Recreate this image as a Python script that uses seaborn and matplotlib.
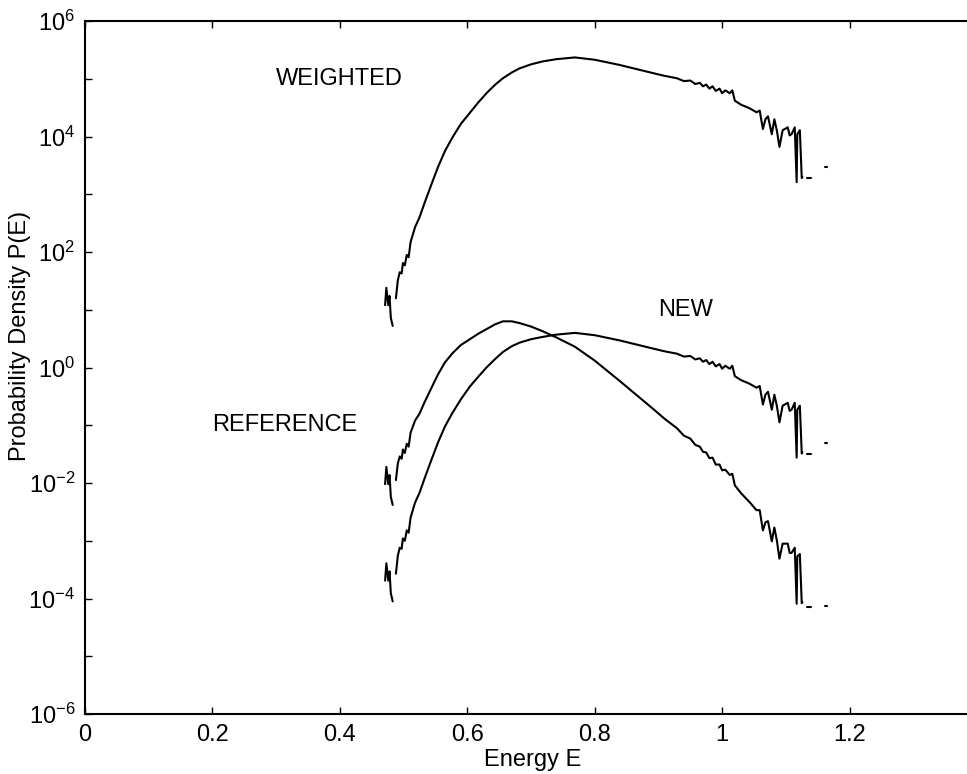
import numpy as np
import pandas as pd
import seaborn as sns
import matplotlib
matplotlib.use('Agg')
import matplotlib.pyplot as plt
from matplotlib.ticker import FixedLocator, NullFormatter

# values (E, log10 P(E)), split where the trace breaks
weighted_jag_E = [0.471, 0.473, 0.476, 0.478, 0.480, 0.483]
weighted_jag_logP = [1.08, 1.38, 1.08, 1.24, 0.86, 0.72]
weighted_E = [0.488, 0.491, 0.494, 0.497, 0.499, 0.502, 0.505, 0.508, 0.511, 0.518,
              0.525, 0.533, 0.543, 0.554, 0.565, 0.577, 0.590, 0.604, 0.618, 0.631,
              0.644, 0.656, 0.670, 0.682, 0.700, 0.718, 0.740, 0.769, 0.800, 0.839,
              0.865, 0.891, 0.910, 0.929, 0.940, 0.950, 0.958, 0.965, 0.970, 0.975,
              0.980, 0.985, 0.990, 0.996, 1.000, 1.005,
              1.012, 1.016, 1.020, 1.030, 1.043, 1.054, 1.059, 1.064, 1.068, 1.072,
              1.078, 1.082, 1.086, 1.090, 1.095, 1.100, 1.103, 1.106, 1.109, 1.114,
              1.117, 1.118, 1.122, 1.125, 1.126]
weighted_logP = [1.20, 1.51, 1.65, 1.63, 1.81, 1.77, 1.95, 1.91, 2.17, 2.43,
                 2.60, 2.85, 3.15, 3.47, 3.75, 3.99, 4.22, 4.41, 4.60, 4.76,
                 4.90, 5.01, 5.11, 5.18, 5.25, 5.30, 5.34, 5.37, 5.33, 5.24,
                 5.17, 5.10, 5.05, 5.01, 4.96, 4.97, 4.91, 4.93, 4.87, 4.90,
                 4.83, 4.87, 4.79, 4.83, 4.75, 4.80,
                 4.75, 4.80, 4.62, 4.55, 4.49, 4.42, 4.45, 4.13, 4.30, 4.35,
                 4.04, 4.30, 4.10, 3.82, 4.11, 4.14, 4.16, 4.02, 4.04, 4.16,
                 3.21, 4.04, 4.11, 3.28, 3.30]
weighted_dash_E = [1.133, 1.139]
weighted_dash_logP = [3.28, 3.28]
weighted_dot_E = [1.162, 1.165]
weighted_dot_logP = [3.47, 3.47]

new_jag_E = [0.471, 0.473, 0.476, 0.478, 0.480, 0.483]
new_jag_logP = [-3.69, -3.39, -3.69, -3.53, -3.91, -4.05]
new_E = weighted_E
new_logP = [-3.57, -3.26, -3.12, -3.14, -2.96, -3.00, -2.82, -2.86, -2.60, -2.34,
            -2.17, -1.92, -1.62, -1.30, -1.02, -0.78, -0.55, -0.33, -0.15, 0.01,
            0.15, 0.27, 0.37, 0.43, 0.49, 0.53, 0.57, 0.60, 0.56, 0.47,
            0.40, 0.33, 0.28, 0.24, 0.19, 0.20, 0.14, 0.16, 0.10, 0.13,
            0.06, 0.10, 0.02, 0.06, -0.02, 0.03,
            -0.02, 0.03, -0.15, -0.22, -0.28, -0.35, -0.32, -0.64, -0.47, -0.42,
            -0.73, -0.47, -0.67, -0.95, -0.66, -0.63, -0.61, -0.75, -0.73, -0.61,
            -1.56, -0.73, -0.66, -1.49, -1.47]
new_dash_E = [1.133, 1.139]
new_dash_logP = [-1.49, -1.49]
new_dot_E = [1.162, 1.165]
new_dot_logP = [-1.30, -1.30]

ref_jag_E = [0.471, 0.473, 0.476, 0.478, 0.480, 0.483]
ref_jag_logP = [-2.02, -1.72, -2.02, -1.86, -2.24, -2.38]
ref_E = weighted_E
ref_logP = [-1.95, -1.66, -1.54, -1.58, -1.42, -1.48, -1.32, -1.37, -1.13, -0.92,
            -0.80, -0.60, -0.37, -0.12, 0.09, 0.25, 0.39, 0.49, 0.59, 0.67,
            0.75, 0.80, 0.80, 0.77, 0.71, 0.63, 0.52, 0.36, 0.12, -0.23,
            -0.47, -0.71, -0.89, -1.05, -1.18, -1.23, -1.34, -1.37, -1.46, -1.47,
            -1.57, -1.56, -1.68, -1.68, -1.78, -1.77,
            -1.86, -1.84, -2.04, -2.18, -2.33, -2.47, -2.47, -2.82, -2.68, -2.66,
            -3.01, -2.77, -3.00, -3.31, -3.05, -3.05, -3.05, -3.21, -3.21, -3.12,
            -4.09, -3.27, -3.23, -4.08, -4.06]
ref_dash_E = [1.133, 1.139]
ref_dash_logP = [-4.15, -4.15]
ref_dot_E = [1.162, 1.165]
ref_dot_logP = [-4.13, -4.13]

x_ticks = [0, 0.2, 0.4, 0.6, 0.8, 1.0, 1.2, 1.4]
x_tick_labels = ['0', '0.2', '0.4', '0.6', '0.8', '1', '1.2', '']
y_exponents = [-6, -4, -2, 0, 2, 4, 6]

# one long table, a segment id keeps the breaks in the traces
pieces = [
    (weighted_jag_E, weighted_jag_logP), (weighted_E, weighted_logP),
    (weighted_dash_E, weighted_dash_logP), (weighted_dot_E, weighted_dot_logP),
    (new_jag_E, new_jag_logP), (new_E, new_logP),
    (new_dash_E, new_dash_logP), (new_dot_E, new_dot_logP),
    (ref_jag_E, ref_jag_logP), (ref_E, ref_logP),
    (ref_dash_E, ref_dash_logP), (ref_dot_E, ref_dot_logP),
]
rows = []
for seg, (e, lp) in enumerate(pieces):
    for a, b in zip(e, lp):
        rows.append((seg, a, 10 ** b))
df = pd.DataFrame(rows, columns=['seg', 'E', 'P'])

sns.set_style('ticks')
plt.rcParams['font.family'] = ['Liberation Sans', 'DejaVu Sans']
plt.rcParams['mathtext.fontset'] = 'custom'
plt.rcParams['mathtext.rm'] = 'Liberation Sans'
plt.rcParams['text.color'] = 'black'
plt.rcParams['axes.labelcolor'] = 'black'

fig = plt.figure(figsize=(9.67, 7.74), dpi=100)
ax = fig.add_axes([0.0879, 0.0775, 0.9224, 0.8953])

sns.lineplot(data=df, x='E', y='P', units='seg', estimator=None, sort=False,
             color='black', linewidth=1.5, ax=ax)

ax.set_yscale('log')
ax.set_xlim(0, 1.4)
ax.set_ylim(1e-6, 1e6)

ax.set_xticks(x_ticks)
ax.set_xticklabels(x_tick_labels)
ax.set_yticks([10.0 ** k for k in y_exponents])
ax.set_yticklabels([r'$\mathregular{10^{%d}}$' % k for k in y_exponents])
ax.yaxis.set_minor_locator(FixedLocator([10.0 ** k for k in [-5, -3, -1, 1, 3, 5]]))
ax.yaxis.set_minor_formatter(NullFormatter())

ax.tick_params(which='both', direction='in', length=5, width=1,
               top=True, right=True, labelsize=17, pad=7, colors='black')
for s in ax.spines.values():
    s.set_linewidth(1.5)
    s.set_color('black')

ax.set_xlabel('Energy E', fontsize=17)
ax.set_ylabel('Probability Density P(E)', fontsize=17)
ax.yaxis.set_label_coords(-0.06, 0.545)
ax.xaxis.set_label_coords(0.502, -0.05)

ax.text(0.30, 1e5, 'WEIGHTED', fontsize=17, va='center', ha='left')
ax.text(0.90, 10, 'NEW', fontsize=17, va='center', ha='left')
ax.text(0.20, 0.1, 'REFERENCE', fontsize=17, va='center', ha='left')

fig.savefig('out.png', dpi=100)
